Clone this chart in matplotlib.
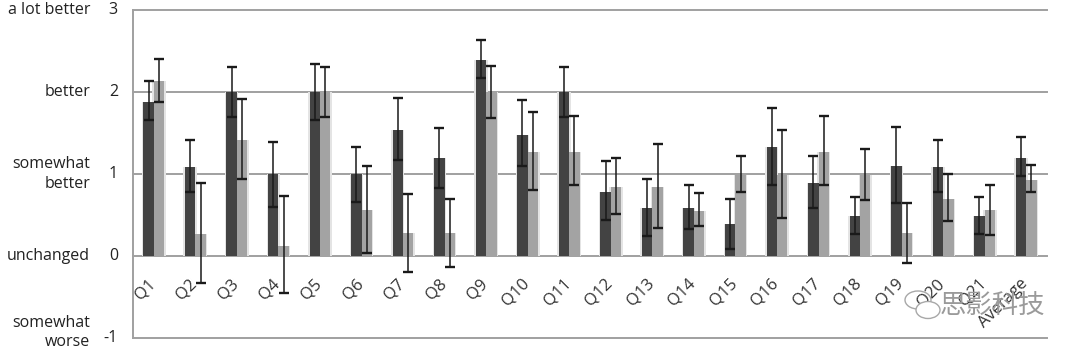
import matplotlib
matplotlib.use("Agg")
import matplotlib.pyplot as plt
from matplotlib.patches import Ellipse
import numpy as np

categories = ["Q1", "Q2", "Q3", "Q4", "Q5", "Q6", "Q7", "Q8", "Q9", "Q10", "Q11",
              "Q12", "Q13", "Q14", "Q15", "Q16", "Q17", "Q18", "Q19", "Q20", "Q21", "Average"]

dark_vals = [1.88, 1.08, 2.0, 1.0, 2.0, 1.0, 1.54, 1.19, 2.39, 1.48, 2.0,
             0.78, 0.59, 0.59, 0.39, 1.33, 0.89, 0.49, 1.10, 1.09, 0.49, 1.20]
dark_hi = [2.13, 1.41, 2.30, 1.39, 2.34, 1.33, 1.93, 1.56, 2.63, 1.90, 2.30,
           1.16, 0.94, 0.87, 0.70, 1.81, 1.22, 0.72, 1.57, 1.41, 0.72, 1.45]
dark_lo = [1.66, 0.78, 1.70, 0.60, 1.66, 0.66, 1.17, 0.83, 2.17, 1.10, 1.70,
           0.44, 0.25, 0.33, 0.09, 0.86, 0.58, 0.27, 0.65, 0.78, 0.27, 0.98]

light_vals = [2.13, 0.27, 1.41, 0.12, 2.0, 0.56, 0.28, 0.28, 2.0, 1.27, 1.27,
              0.84, 0.84, 0.55, 0.99, 0.99, 1.27, 0.99, 0.28, 0.70, 0.56, 0.93]
light_hi = [2.40, 0.89, 1.91, 0.73, 2.31, 1.10, 0.76, 0.70, 2.32, 1.76, 1.71,
            1.20, 1.37, 0.77, 1.22, 1.54, 1.71, 1.31, 0.65, 1.00, 0.87, 1.11]
light_lo = [1.88, -0.33, 0.94, -0.45, 1.69, 0.04, -0.19, -0.14, 1.68, 0.80, 0.87,
            0.51, 0.34, 0.36, 0.78, 0.46, 0.87, 0.68, -0.08, 0.43, 0.26, 0.78]

ytick_vals = [3, 2, 1, 0, -1]
ytick_words = ["a lot better", "better", "somewhat\nbetter", "unchanged", "somewhat\nworse"]

font = "Open Sans"
plt.rcParams['font.family'] = [font, 'DejaVu Sans']

fig = plt.figure(figsize=(10.8, 3.54), dpi=100)
ax = fig.add_axes([133/1080, 1-338/354, (1047-133)/1080, (338-10)/354])

x = np.arange(len(categories))
w = 0.25
dv = np.array(dark_vals); lv = np.array(light_vals)
derr = [dv - np.array(dark_lo), np.array(dark_hi) - dv]
lerr = [lv - np.array(light_lo), np.array(light_hi) - lv]

# soft shadow
ax.bar(x - w/2, dv, width=w + 0.07, color="#e4e4e4", zorder=2)
ax.bar(x + w/2, lv, width=w + 0.07, color="#e4e4e4", zorder=2)

ax.bar(x - w/2, dv, width=w, color="#434343", zorder=3)
ax.bar(x + w/2, lv, width=w, color="#a3a3a3", zorder=3)
ax.errorbar(x - w/2, dv, yerr=derr, fmt="none", ecolor="#1a1a1a", elinewidth=1.1,
            capsize=3.4, capthick=1.7, zorder=4)
ax.errorbar(x + w/2, lv, yerr=lerr, fmt="none", ecolor="#1a1a1a", elinewidth=1.1,
            capsize=3.4, capthick=1.7, zorder=4)

ax.set_xlim(-0.5, len(categories) - 0.5)
ax.set_ylim(-1, 3)
for v in ytick_vals:
    ax.axhline(v, color="#a0a0a0", lw=1.4, zorder=1, clip_on=False)
for s in ["top", "right", "bottom"]:
    ax.spines[s].set_visible(False)
ax.spines["left"].set_color("#a0a0a0")
ax.spines["left"].set_linewidth(1.4)
ax.set_xticks([])
ax.set_yticks([])

for v, word in zip(ytick_vals, ytick_words):
    ax.text(-0.0165, v, str(v), transform=ax.get_yaxis_transform(), ha="right",
            va="center", fontsize=11.5, color="#222222")
    yy = v if v != -1 else -0.93
    ax.text(-0.047, yy, word, transform=ax.get_yaxis_transform(), ha="right",
            va="center", fontsize=11.5, color="#222222", linespacing=1.25,
            multialignment="right")

for i, c in enumerate(categories):
    ax.text(i + 0.12, -0.24, c, rotation=45, ha="right", va="top",
            fontsize=12, color="#333333")

# watermark
fig.text(1045/1080, 1-305/354, "思影科技", fontsize=19, color="#9a9a9a", ha="right",
         va="center", family=["Noto Sans CJK SC", "DejaVu Sans"])
fig.add_artist(Ellipse((918/1080, 1-300/354), 26/1080, 18/354, transform=fig.transFigure,
                       fill=False, ec="#a8a8a8", lw=1.0))
fig.add_artist(Ellipse((928/1080, 1-310/354), 24/1080, 17/354, transform=fig.transFigure,
                       fc="white", ec="#a8a8a8", lw=1.0))

fig.savefig("out.png", dpi=100, facecolor="white")
